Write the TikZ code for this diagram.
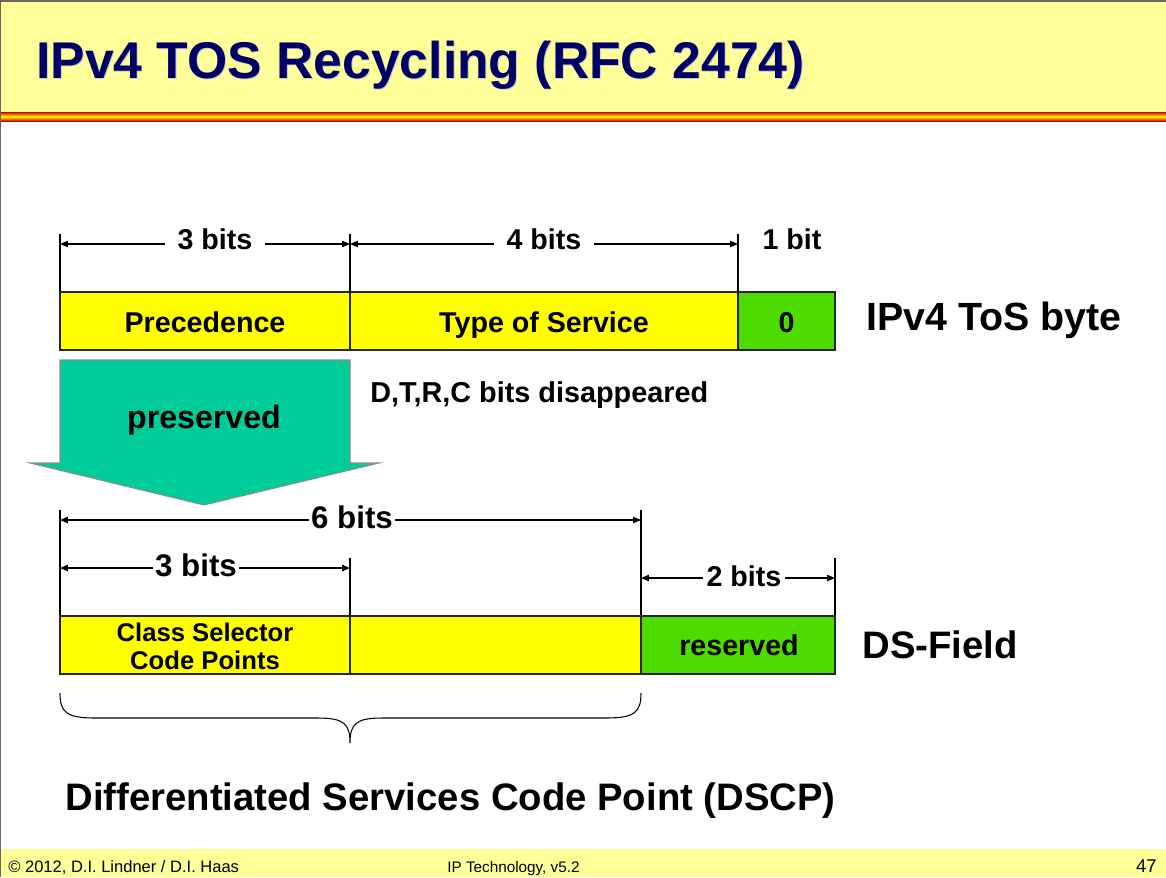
\documentclass[tikz,border=0pt]{standalone}
\usepackage{fontspec}
\setmainfont{Liberation Sans}
\usetikzlibrary{arrows.meta}

\definecolor{titlebg}{RGB}{255,255,153}
\definecolor{titleblue}{RGB}{0,0,102}
\definecolor{fieldyellow}{RGB}{255,255,0}
\definecolor{fieldgreen}{RGB}{77,219,0}
\definecolor{arrowteal}{RGB}{0,204,153}

\newcommand{\titlefont}{\bfseries\fontsize{29.4}{34}\selectfont}
\newcommand{\bitfont}{\bfseries\fontsize{16.3}{19}\selectfont}
\newcommand{\dimfont}{\bfseries\fontsize{17.8}{21}\selectfont}
\newcommand{\namefont}{\bfseries\fontsize{21.8}{26}\selectfont}
\newcommand{\footfont}{\fontsize{9.4}{11}\selectfont}

\tikzset{
  field/.style={draw=black!85, line width=0.8pt},
  bitmark/.style={line width=0.6pt},
  dimline/.style={line width=0.6pt,
    {Triangle[length=4.5pt,width=3.6pt]}-{Triangle[length=4.5pt,width=3.6pt]}},
  lbl/.style={anchor=base, inner sep=0pt, font=\bitfont},
  dimlbl/.style={anchor=base, fill=white, inner ysep=1pt, inner xsep=6pt, font=\bitfont},
  sidelbl/.style={anchor=base west, inner sep=0pt, font=\namefont}
}

\begin{document}
\begin{tikzpicture}[x=0.02cm,y=-0.02cm]
\useasboundingbox (0,0) rectangle (1166,877);

% slide frame
\fill[titlebg] (0,0) rectangle (1166,112);
\shade[top color=red!80!black, bottom color=red!80!black, middle color=yellow] (0,112) rectangle (1166,121);
\fill[titlebg] (0,849) rectangle (1166,877);
\draw[black!60, line width=1.2pt] (0,1) -- (1166,1);
\draw[black!60, line width=0.8pt] (0.6,0) -- (0.6,877);

% title
\node[anchor=base west, inner sep=0pt, text=black!20, font=\titlefont] at (37,79) {IPv4 TOS Recycling (RFC 2474)};
\node[anchor=base west, inner sep=0pt, text=titleblue, font=\titlefont] (title) at (36,78) {IPv4 TOS Recycling (RFC 2474)};

% IPv4 ToS byte
\coordinate (a0) at (60,244);
\coordinate (a1) at (350,244);
\coordinate (a2) at (738,244);
\draw[bitmark] (60,234) -- (60,292);
\draw[bitmark] (350,234) -- (350,292);
\draw[bitmark] (738,234) -- (738,292);
\draw[dimline] (a0) -- (a1);
\draw[dimline] (a1) -- (a2);
\node[dimlbl, inner xsep=7pt] (bitsA) at (215,249) {3 bits};
\node[dimlbl, inner xsep=7pt] (bitsB) at (544,249) {4 bits};
\node[lbl] (bitsC) at (792,249) {1 bit};

\draw[field, fill=fieldyellow] (60,292) rectangle (350,350);
\draw[field, fill=fieldyellow] (350,292) rectangle (738,350);
\draw[field, fill=fieldgreen] (738,292) rectangle (835,350);
\node[lbl] (prec) at (205,332) {Precedence};
\node[lbl] (tos) at (544,332) {Type of Service};
\node[lbl] (zero) at (786.5,332) {0};
\node[sidelbl, font=\bfseries\fontsize{22.4}{26}\selectfont] (tosbyte) at (866,330) {IPv4 ToS byte};

% preserved arrow
\draw[fill=arrowteal, draw=black!45, line width=0.6pt]
  (60,360) -- (350,360) -- (350,463) -- (379,463) -- (204,505) -- (30,463) -- (60,463) -- cycle;
\node[lbl, font=\bfseries\fontsize{18.3}{22}\selectfont] (keep) at (204,428) {preserved};
\node[lbl, anchor=base west, font=\bfseries\fontsize{16.4}{19}\selectfont] (gone) at (370,402) {D,T,R,C bits disappeared};

% DS field
\coordinate (b0) at (60,520);
\coordinate (b1) at (641,520);
\coordinate (c0) at (60,568);
\coordinate (c1) at (350,568);
\coordinate (d0) at (641,578);
\coordinate (d1) at (835,578);
\draw[bitmark] (60,510) -- (60,616);
\draw[bitmark] (641,510) -- (641,616);
\draw[bitmark] (350,558) -- (350,616);
\draw[bitmark] (835,558) -- (835,616);
\draw[dimline] (b0) -- (b1);
\draw[dimline] (c0) -- (c1);
\draw[dimline] (d0) -- (d1);
\node[dimlbl, inner xsep=1pt, font=\dimfont] (bitsD) at (352,528) {6 bits};
\node[dimlbl, inner xsep=1pt, font=\dimfont] (bitsE) at (196,576) {3 bits};
\node[dimlbl, inner xsep=2pt] (bitsF) at (744,586) {2 bits};

\draw[field, fill=fieldyellow] (60,616) rectangle (350,674);
\draw[field, fill=fieldyellow] (350,616) rectangle (641,674);
\draw[field, fill=fieldgreen] (641,616) rectangle (835,674);
\node[inner sep=0pt, align=center, font=\bfseries\fontsize{14.6}{15.9}\selectfont] (csel) at (205,646) {Class Selector\\Code Points};
\node[lbl] (resv) at (739,655) {reserved};
\node[sidelbl] (dsfield) at (862,658) {DS-Field};

% brace under the DSCP bits
\draw[line width=0.6pt] (60,693) .. controls (60,712) and (66,718) .. (95,718) -- (318,718)
  .. controls (344,718) and (350,724) .. (350,743)
  .. controls (350,724) and (356,718) .. (382,718) -- (606,718)
  .. controls (635,718) and (641,712) .. (641,693);
\node[sidelbl] (dscp) at (65,810) {Differentiated Services Code Point (DSCP)};

% footer
\node[anchor=base west, inner sep=0pt, font=\footfont] (copy) at (8,872) {© 2012, D.I. Lindner / D.I. Haas};
\node[anchor=base west, inner sep=0pt, font=\fontsize{8.7}{10}\selectfont] (course) at (447,872) {IP Technology, v5.2};
\node[anchor=base east, inner sep=0pt, font=\fontsize{10.5}{12}\selectfont] (page) at (1157,872) {47};
\end{tikzpicture}
\end{document}
